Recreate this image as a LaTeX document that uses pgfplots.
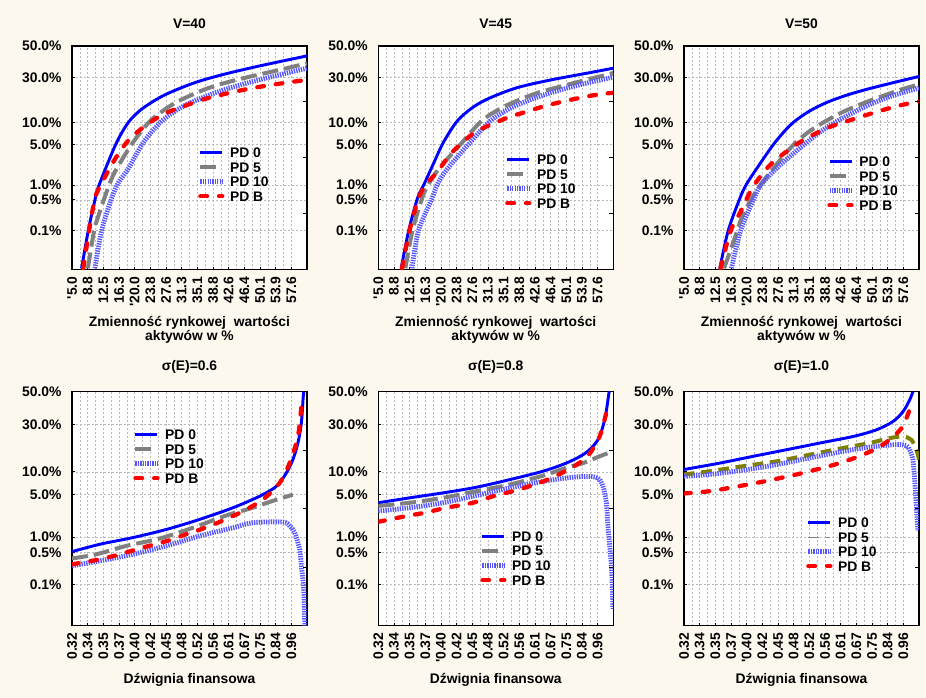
\documentclass[border=0pt]{standalone}
\usepackage{fontspec}
\setmainfont{Liberation Sans}
\usepackage{pgfplots}
\pgfplotsset{compat=1.18}
\definecolor{bgc}{RGB}{252,248,238}
\definecolor{c0}{RGB}{0,0,255}
\definecolor{c5}{RGB}{128,128,128}
\definecolor{c10}{RGB}{85,85,255}
\definecolor{cB}{RGB}{255,0,0}
\definecolor{cOl}{RGB}{128,128,0}
\newcommand\ff{\bfseries\fontsize{10.4}{10.4}\selectfont}
\newcommand\rticks{\draw[black, line width=0.6pt] (rel axis cs:1,0.25) -- ++(-3pt,0pt) (rel axis cs:1,0.5) -- ++(-3pt,0pt) (rel axis cs:1,0.75) -- ++(-3pt,0pt);}
\pgfplotsset{
  y coord trafo/.code={%
    \pgfmathparse{sqrt(-2*ln((#1)/100))}%
    \let\tq\pgfmathresult
    \pgfmathparse{-(\tq-(2.515517+0.802853*\tq+0.010328*\tq*\tq)/(1+1.432788*\tq+0.189269*\tq*\tq+0.001308*\tq*\tq*\tq))}%
  },
  legend image code/.code={\draw[#1] (0pt,0pt) -- (16.5pt,0pt);},
  s0/.style={color=c0, line width=2.2pt, solid, smooth, tension=0.5},
  s5/.style={color=c5, line width=3pt, dash pattern=on 12pt off 4.5pt, smooth, tension=0.5},
  s5ol/.style={color=cOl, line width=3pt, dash pattern=on 8pt off 5pt, smooth, tension=0.5},
  s10/.style={color=c10, line width=3.6pt, dash pattern=on 1pt off 0.8pt, smooth, tension=0.5},
  sB/.style={color=cB, line width=3.2pt, dash pattern=on 5pt off 9pt, line cap=round, smooth, tension=0.5},
  base/.style={
    scale only axis, width=176.25pt,
    axis background/.style={fill=white},
    axis line style={black, line width=0.9pt},
    ymin=0.01, ymax=50,
    ytick={0.1,0.5,1,5,10,30,50},
    yticklabels={0.1\%,0.5\%,1.0\%,5.0\%,10.0\%,30.0\%,50.0\%},
    ymajorgrids, xmajorgrids, xminorgrids, minor x tick num=1,
    grid style={gray!55, line width=0.4pt, dash pattern=on 1.5pt off 1.5pt},
    tick style={black, line width=0.6pt},
    major tick length=2.25pt, minor tick length=0pt,
    tick align=inside,
    xtick pos=bottom, ytick pos=left,
    yticklabel style={font=\ff, inner sep=0pt, xshift=-7.7pt},
    xticklabel style={font=\ff, inner sep=0pt, yshift=-5pt, rotate=90, anchor=east},
    title style={font=\ff, anchor=center, yshift=-6pt},
    xlabel style={font=\ff, align=center, anchor=center},
    legend style={draw=none, fill=none, font=\ff, anchor=north west, inner sep=0pt, outer sep=0pt,
      row sep=3.4pt, column sep=4pt, nodes={inner sep=0pt, text height=7.5pt, text depth=0pt}},
    legend cell align=left,
  },
  toprow/.style={base, height=167.7pt, xmin=5, xmax=61.4,
    xtick={5,8.76,12.52,16.28,20.04,23.8,27.56,31.32,35.08,38.84,42.6,46.36,50.12,53.88,57.64},
    xticklabels={{\textquotesingle5.0},8.8,12.5,16.3,{\textquotesingle20.0},23.8,27.6,31.3,35.1,38.8,42.6,46.4,50.1,53.9,57.6},
    title style={at={(0.5,1.098)}},
    xlabel={Zmienność rynkowej\ \ wartości\\aktywów w \%},
    xlabel style={at={(axis description cs:0.5,-0.271)}}},
  botrow/.style={base, height=175.5pt, xmin=0, xmax=15,
    xtick={0,1,2,3,4,5,6,7,8,9,10,11,12,13,14},
    xticklabels={0.32,0.34,0.35,0.37,{\textquotesingle0.40},0.42,0.45,0.48,0.52,0.56,0.61,0.67,0.75,0.84,0.96},
    title style={at={(0.5,1.107)}},
    xlabel={Dźwignia finansowa},
    xlabel style={at={(axis description cs:0.5,-0.232)}}},
}
\begin{document}
\begin{tikzpicture}
\fill[bgc] (0,0) rectangle (694.5pt,-523.5pt);
% ---------- V=40
\begin{axis}[toprow, at={(54pt,-34.5pt)}, anchor=north west, title={V=40},
  legend style={at={(0.536,0.545)}}]
\addplot[s0] coordinates {(7.3,0.01)(8.9,0.1)(10.5,0.5)(11.5,1.0)(15.5,5.0)(18.5,10.0)(21.7,14.5)(26.4,19.8)(31.2,24.2)(35.7,27.9)(41.5,31.8)(47.6,35.5)(54,39.2)(61.4,43.4)};
\addplot[s5] coordinates {(8.8,0.01)(10.3,0.1)(11.1,0.19)(12.4,0.44)(14.1,1.1)(15.7,2.0)(19.6,5.3)(23.7,10.4)(28,15.2)(31.3,18.5)(36.9,23.4)(42,27)(47.2,30.1)(55.6,34.9)(61.4,38.6)};
\addplot[s10] coordinates {(10.5,0.01)(12.1,0.1)(14.5,0.54)(16.1,1.1)(18.5,2.0)(22.1,5.3)(26.5,10.4)(31,15)(35.7,18.9)(42.1,23.6)(50,28.6)(61.4,35.5)};
\addplot[sB] coordinates {(7.7,0.01)(9.1,0.1)(10.5,0.54)(12.0,1.04)(15.3,2.9)(18.4,5.6)(22,8.6)(26.8,12.6)(31.6,15.5)(36.4,18.5)(42.9,21.7)(48.4,24.1)(54.8,26.4)(60.3,28.2)};
\legend{PD 0,PD 5,PD 10,PD B}
\rticks
\end{axis}
% ---------- V=45
\begin{axis}[toprow, at={(283.7pt,-34.5pt)}, anchor=north west, title={V=45},
  legend style={at={(0.539,0.514)}}]
\addplot[s0] coordinates {(10.5,0.01)(12.3,0.1)(14.4,0.54)(16.0,1.04)(18.3,2.5)(20.6,5.3)(23.9,10.4)(27.5,15)(31.5,19)(38.2,24.2)(46.2,28.4)(55,32.4)(61.4,35.5)};
\addplot[s5] coordinates {(11.5,0.01)(13.2,0.1)(15.5,0.54)(17.05,1.04)(19.45,1.96)(25.1,5.3)(29.7,10.4)(34,14.5)(38.3,18)(43,21.5)(48.6,24.8)(55,28.6)(61.4,32.5)};
\addplot[s10] coordinates {(13.1,0.01)(14.65,0.1)(17.9,0.54)(19.2,1.04)(21.5,1.96)(27.0,5.3)(31.8,10.4)(36,14.3)(40.6,17.8)(45,20.8)(50.2,24)(55.5,27)(61.4,30.1)};
\addplot[sB] coordinates {(10.7,0.01)(12.5,0.1)(14.65,0.54)(16.5,1.04)(19.1,1.73)(22.7,3.75)(28.2,7.4)(35.4,11.2)(40.6,13.6)(45.7,16.1)(51.4,18.5)(57,20.6)(61.4,21.7)};
\legend{PD 0,PD 5,PD 10,PD B}
\rticks
\end{axis}
% ---------- V=50
\begin{axis}[toprow, at={(513pt,-34.5pt)}, anchor=north west, title={V=50},
  legend style={at={(0.609,0.505)}}]
\addplot[s0] coordinates {(13.6,0.01)(15.6,0.1)(18.4,0.54)(20.0,1.04)(22.8,2.2)(26.8,5.3)(30.8,9.6)(35,13.7)(39.2,17.2)(44,20.5)(49,23.5)(55.1,26.9)(61.4,30.5)};
\addplot[s5] coordinates {(14.6,0.01)(17,0.057)(18.9,0.21)(21.6,0.61)(25.6,1.71)(31.1,4.8)(35,7.6)(38.8,10.3)(43,13.4)(47,16.2)(51.5,19.3)(57,23.2)(61.4,26)};
\addplot[s10] coordinates {(16.4,0.01)(18.6,0.1)(21.8,0.54)(23.6,1.04)(28,2.3)(34.4,5.3)(38.5,8.1)(42,10.6)(46,13.6)(50,16.7)(55.1,20.3)(61.4,24.1)};
\addplot[sB] coordinates {(13.75,0.01)(16.2,0.1)(18.6,0.28)(21,0.77)(23.4,1.48)(26.3,2.58)(31.6,4.8)(35.6,6.7)(40.5,9)(45.3,10.9)(50.3,13.1)(55.6,15.5)(60.4,17.4)(61.4,17.7)};
\legend{PD 0,PD 5,PD 10,PD B}
\rticks
\end{axis}
% ---------- sigma 0.6
\begin{axis}[botrow, at={(54pt,-293.8pt)}, anchor=north west, title={σ(E)=0.6},
  legend style={at={(0.26,0.838)}}]
\addplot[s0] coordinates {(0,0.53)(1.79,0.74)(3.91,0.99)(6.04,1.39)(8.16,2.07)(10.28,3.19)(11.98,4.75)(13.05,6.55)(13.68,9.7)(14.1,13.9)(14.42,20.6)(14.64,30.8)(14.76,46.8)(14.8,50)};
\addplot[s5] coordinates {(0,0.385)(1.57,0.47)(3.49,0.69)(5.61,0.95)(7.73,1.49)(9.86,2.4)(11.56,3.2)(12.6,3.9)(14.1,5.0)};
\addplot[s10] coordinates {(0,0.27)(1.78,0.344)(3.91,0.47)(6.04,0.69)(8.16,1.06)(10.3,1.49)(11.56,1.82)(13.47,1.86)(13.9,1.59)(14.21,1.22)(14.53,0.59)(14.64,0.27)(14.79,0.081)(14.85,0.014)(14.87,0.005)};
\addplot[sB] coordinates {(0,0.29)(1.78,0.37)(3.06,0.47)(4.54,0.64)(6.04,0.85)(7.31,1.14)(8.8,1.59)(10.28,2.35)(11.13,3.0)(12.19,4.25)(13.26,7.27)(13.89,12.7)(14.42,23.7)(14.64,40.6)(14.7,46.8)};
\legend{PD 0,PD 5,PD 10,PD B}
\rticks
\end{axis}
% ---------- sigma 0.8
\begin{axis}[botrow, at={(283.7pt,-293.8pt)}, anchor=north west, title={σ(E)=0.8},
  legend style={at={(0.433,0.403)}}]
\addplot[s0] coordinates {(0,3.8)(2.02,4.5)(4.14,5.3)(6.27,6.35)(8.39,8.0)(10.52,10.2)(12,12.7)(13.07,15.7)(13.7,19.1)(14.13,23.7)(14.45,32.6)(14.6,40.6)(14.72,49)(14.75,50)};
\addplot[s5] coordinates {(0,3.4)(2.02,3.8)(4.14,4.5)(6.27,5.6)(8.39,6.9)(10.52,9.0)(12,11.2)(13.07,12.7)(14.13,15.1)(14.95,17.0)};
\addplot[s10] coordinates {(0,2.82)(2.02,3.19)(4.14,3.8)(6.27,4.87)(8.39,6.23)(10.52,7.6)(12,8.4)(13.28,8.8)(14.02,8.4)(14.34,6.55)(14.56,3.8)(14.66,1.59)(14.88,0.27)(14.98,0.026)};
\addplot[sB] coordinates {(0,1.88)(1.81,2.35)(2.98,2.66)(4.36,3.19)(6.05,3.8)(7.33,4.75)(8.6,5.6)(9.99,6.9)(11.05,8.4)(12.33,11.2)(13.35,15.1)(14.13,23.7)(14.6,38.6)(14.65,42)};
\legend{PD 0,PD 5,PD 10,PD B}
\rticks
\end{axis}
% ---------- sigma 1.0
\begin{axis}[botrow, at={(513pt,-293.8pt)}, anchor=north west, title={σ(E)=1.0},
  legend style={at={(0.519,0.462)}}]
\addplot[s0] coordinates {(0,10.7)(2.29,12.7)(4.42,15.1)(6.55,17.7)(8.67,20.6)(10.79,23.7)(12.28,27.1)(13.34,31.7)(13.98,37.5)(14.4,44.7)(14.61,50)};
\addplot[s5ol, legend image code/.code={\draw[c5, line width=0.6pt] (0pt,0pt) -- (16.5pt,0pt);}] coordinates {(0,9.3)(1.66,10.2)(3.78,11.7)(5.91,13.3)(8.03,15.7)(10.15,18.4)(11.85,20.6)(13.13,22.9)(13.98,23.7)(14.51,22.1)(14.83,17.7)(15,13.9)};
\addplot[s10] coordinates {(0,8.8)(1.66,9.3)(3.78,10.5)(5.91,12.2)(8.03,14.5)(10.15,17.0)(11.85,18.8)(13.56,19.9)(14.19,19.4)(14.4,17.7)(14.61,13.9)(14.72,8.0)(14.83,3.4)(14.93,1.3)};
\addplot[sB] coordinates {(0,5.2)(1.66,5.6)(3.14,6.35)(4.84,7.4)(5.91,8.2)(7.18,9.3)(8.46,10.7)(9.94,12.7)(11.43,15.7)(12.7,19.9)(13.88,28)(14.51,41.6)};
\legend{PD 0,PD 5,PD 10,PD B}
\rticks
\end{axis}
\pgfresetboundingbox
\path (0,0) rectangle (694.5pt,-523.5pt);
\end{tikzpicture}
\end{document}
